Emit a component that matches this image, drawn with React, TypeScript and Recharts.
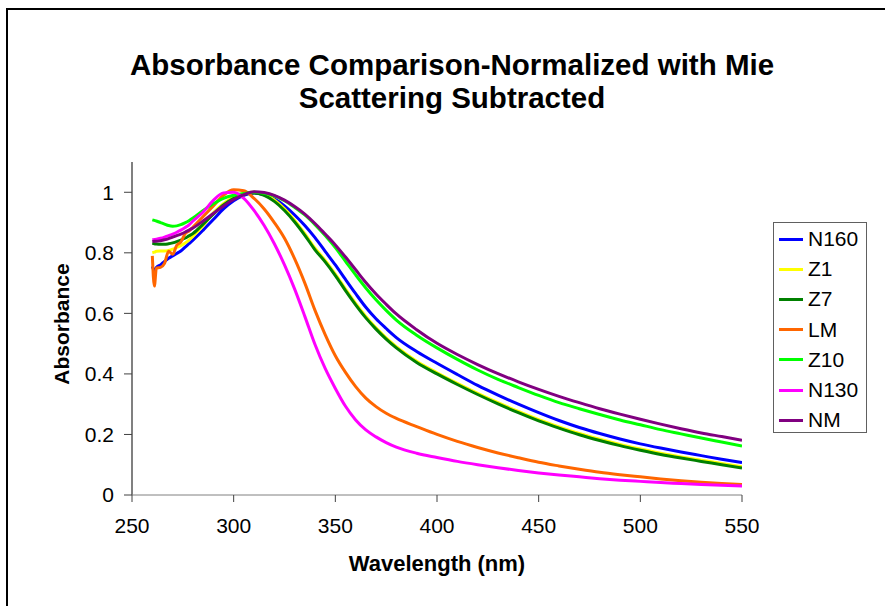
import React from "react";
import { LineChart, Line, XAxis, YAxis } from "recharts";

const wavelengths = [
  260, 261, 262, 264, 266, 268, 270, 272, 274, 276, 278,
  280, 285, 290, 295, 300, 305, 310, 315, 320, 325, 330, 335, 340, 345, 350, 355, 360, 365, 370, 375, 380,
  390, 400, 410, 420, 430, 440, 450, 460, 470, 480, 490, 500, 510, 520, 530, 540, 550,
];

const n160 = [
  0.755, 0.74, 0.752, 0.76, 0.772, 0.782, 0.79, 0.798, 0.806, 0.818, 0.83,
  0.842, 0.875, 0.91, 0.945, 0.972, 0.99, 0.998, 0.992, 0.978, 0.955, 0.925, 0.89, 0.85, 0.805, 0.76, 0.712, 0.665, 0.62, 0.582, 0.55, 0.52,
  0.474, 0.435, 0.398, 0.362, 0.33, 0.3, 0.272, 0.246, 0.223, 0.203, 0.185, 0.169, 0.155, 0.142, 0.13, 0.118, 0.107,
];
const z1 = [
  0.8, 0.802, 0.805, 0.806, 0.806, 0.808, 0.812, 0.818, 0.824, 0.832, 0.842,
  0.855, 0.89, 0.932, 0.962, 0.984, 0.997, 1.0, 0.994, 0.975, 0.945, 0.907, 0.863, 0.815, 0.775, 0.73, 0.68, 0.633, 0.59, 0.552, 0.519, 0.49,
  0.442, 0.404, 0.369, 0.336, 0.305, 0.276, 0.249, 0.225, 0.203, 0.184, 0.167, 0.152, 0.138, 0.126, 0.115, 0.104, 0.093,
];
const z7 = [
  0.832, 0.83, 0.829, 0.828, 0.828, 0.83, 0.833, 0.837, 0.842, 0.848, 0.856,
  0.864, 0.895, 0.928, 0.958, 0.98, 0.993, 0.998, 0.99, 0.97, 0.94, 0.902, 0.858, 0.81, 0.77, 0.725, 0.675, 0.628, 0.585, 0.548, 0.515, 0.486,
  0.438, 0.4, 0.365, 0.332, 0.301, 0.272, 0.245, 0.221, 0.199, 0.18, 0.163, 0.148, 0.134, 0.122, 0.111, 0.1, 0.089,
];
const lm = [
  0.79, 0.69, 0.75, 0.752, 0.765, 0.805, 0.795, 0.825, 0.835, 0.862, 0.872,
  0.885, 0.92, 0.955, 0.99, 1.008, 1.005, 0.98, 0.945, 0.9, 0.848, 0.78, 0.7, 0.61, 0.53, 0.46, 0.405, 0.358, 0.32, 0.292, 0.27, 0.253,
  0.226, 0.2, 0.177, 0.157, 0.139, 0.123, 0.108, 0.096, 0.085, 0.075, 0.067, 0.06, 0.053, 0.047, 0.042, 0.038, 0.035,
];
const z10 = [
  0.909, 0.907, 0.905, 0.9, 0.895, 0.89, 0.888, 0.889, 0.893, 0.899, 0.906,
  0.915, 0.94, 0.962, 0.98, 0.99, 0.996, 1.0, 0.997, 0.988, 0.972, 0.95, 0.925, 0.893, 0.857, 0.817, 0.772, 0.727, 0.684, 0.645, 0.61, 0.578,
  0.528, 0.486, 0.448, 0.413, 0.382, 0.355, 0.329, 0.305, 0.285, 0.266, 0.248, 0.232, 0.216, 0.202, 0.188, 0.175, 0.162,
];
const n130 = [
  0.843, 0.844, 0.845, 0.848, 0.852, 0.857, 0.862, 0.868, 0.875, 0.883, 0.892,
  0.905, 0.935, 0.973, 0.998, 1.0, 0.98, 0.94, 0.89, 0.83, 0.76, 0.68, 0.59, 0.497, 0.418, 0.352, 0.293, 0.248, 0.215, 0.192, 0.173, 0.158,
  0.138, 0.124, 0.111, 0.1, 0.09, 0.081, 0.073, 0.066, 0.06, 0.054, 0.049, 0.045, 0.041, 0.038, 0.035, 0.032, 0.03,
];
const nm = [
  0.837, 0.838, 0.838, 0.84, 0.843, 0.847, 0.852, 0.857, 0.862, 0.868, 0.875,
  0.882, 0.905, 0.93, 0.955, 0.976, 0.992, 1.002, 0.999, 0.99, 0.974, 0.953, 0.928, 0.897, 0.862, 0.826, 0.786, 0.744, 0.702, 0.664, 0.63, 0.598,
  0.546, 0.501, 0.464, 0.431, 0.401, 0.374, 0.349, 0.326, 0.305, 0.285, 0.267, 0.25, 0.234, 0.219, 0.205, 0.193, 0.181,
];

const xTicks = [250, 300, 350, 400, 450, 500, 550];
const yTicks = [0, 0.2, 0.4, 0.6, 0.8, 1];

const series = [
  { key: "N160", values: n160, color: "#0000FF" },
  { key: "Z1", values: z1, color: "#FFFF00" },
  { key: "Z7", values: z7, color: "#008000" },
  { key: "LM", values: lm, color: "#FF6600" },
  { key: "Z10", values: z10, color: "#00FF00" },
  { key: "N130", values: n130, color: "#FF00FF" },
  { key: "NM", values: nm, color: "#800080" },
];

const rows = wavelengths.map((w, i) => {
  const row: Record<string, number> = { w };
  series.forEach((s) => (row[s.key] = s.values[i]));
  return row;
});

const font = '"Liberation Sans", Arial, sans-serif';
const tickStyle = { fontSize: 21, fill: "#000", fontFamily: font };

export default function App() {
  return (
    <div style={{ position: "absolute", left: 0, top: 0, width: 885, height: 606, background: "#fff", overflow: "hidden", fontFamily: font }}>
      <div style={{ position: "absolute", left: 6, top: 8, width: 900, height: 620, border: "2px solid #000" }} />

      <div style={{ position: "absolute", left: 0, top: 48, width: 904, textAlign: "center", fontWeight: "bold", fontSize: 29.5, lineHeight: "33px" }}>
        Absorbance Comparison-Normalized with Mie
        <br />
        Scattering Subtracted
      </div>

      <LineChart
        width={885}
        height={606}
        data={rows}
        margin={{ top: 162, right: 143, bottom: 81, left: 72 }}
        style={{ position: "absolute", left: 0, top: 0 }}
      >
        <XAxis
          dataKey="w"
          type="number"
          domain={[250, 550]}
          ticks={xTicks}
          tickSize={7}
          tickMargin={16}
          height={30}
          axisLine={{ stroke: "#808080", strokeWidth: 1 }}
          tickLine={{ stroke: "#404040" }}
          tick={tickStyle}
          allowDataOverflow
        />
        <YAxis
          type="number"
          domain={[0, 1.1]}
          ticks={yTicks}
          tickSize={8}
          tickMargin={10}
          width={60}
          axisLine={{ stroke: "#808080", strokeWidth: 2 }}
          tickLine={{ stroke: "#404040" }}
          tick={tickStyle}
          allowDataOverflow
        />
        {series.map((s) => (
          <Line
            key={s.key}
            dataKey={s.key}
            type="monotone"
            stroke={s.color}
            strokeWidth={3}
            dot={false}
            isAnimationActive={false}
          />
        ))}
      </LineChart>

      <div
        style={{
          position: "absolute",
          left: 62,
          top: 324,
          transform: "translate(-50%, -50%) rotate(-90deg)",
          fontWeight: "bold",
          fontSize: 21,
          whiteSpace: "nowrap",
        }}
      >
        Absorbance
      </div>
      <div style={{ position: "absolute", left: 317, top: 551, width: 240, textAlign: "center", fontWeight: "bold", fontSize: 22 }}>
        Wavelength (nm)
      </div>

      <div
        style={{
          position: "absolute",
          left: 773,
          top: 222,
          width: 92,
          height: 209,
          border: "1px solid #606060",
          background: "#fff",
        }}
      >
        {series.map((s, i) => (
          <div key={s.key} style={{ position: "absolute", left: 5, top: 2 + i * 30.2, height: 28, display: "flex", alignItems: "center" }}>
            <div style={{ width: 24, height: 3, background: s.color }} />
            <span style={{ marginLeft: 5, fontSize: 21 }}>{s.key}</span>
          </div>
        ))}
      </div>
    </div>
  );
}
